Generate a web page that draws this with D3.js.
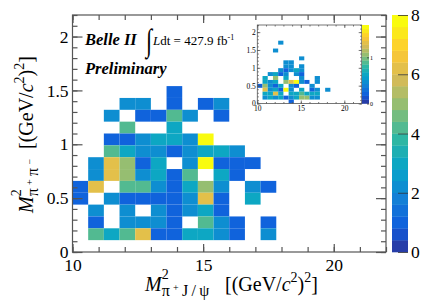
<!DOCTYPE html>
<html>
<head>
<meta charset="utf-8">
<script src="https://cdn.jsdelivr.net/npm/d3@7"></script>
<style>
    body { margin: 0; background: #fff; }
</style>
</head>
<body>
<svg id="chart" width="425" height="305"></svg>
<script>
// axis ticks
const xTicks = [10, 15, 20];
const yTicks = [0, 0.5, 1, 1.5, 2];
const zTicks = [0, 2, 4, 6, 8];
const insetZTicks = [0, 1];

// binning of both histograms: 20 bins in x over [10,22], 20 bins in y over [0,2.2]
const xRange = [10, 22];
const yRange = [0, 2.2];
const nBins = 20;
const zMax = 8;
const insetZMax = 1.7;

// main histogram, counts per bin, rows from y bin 13 (top) down to y bin 0, columns x bins 0..13
const mainCounts = [
    [0, 0, 0, 0, 0, 0, 1, 0, 0, 0, 0, 0, 0, 0],
    [0, 0, 0, 2, 2, 0, 1, 0, 1, 2, 0, 0, 0, 0],
    [0, 0, 2, 0, 1, 1, 4, 2, 0, 1, 0, 0, 0, 0],
    [0, 0, 0, 4, 0, 0, 3, 0, 0, 0, 0, 0, 0, 0],
    [0, 0, 1, 1, 2, 3, 3, 2, 8, 0, 0, 0, 0, 0],
    [0, 0, 4, 3, 2, 2, 1, 2, 3, 3, 2, 0, 0, 0],
    [0, 2, 6, 5, 1, 3, 0, 2, 8, 1, 1, 1, 0, 0],
    [0, 2, 6, 5, 2, 3, 1, 4, 0, 3, 1, 0, 0, 0],
    [1, 6, 0, 4, 4, 2, 1, 3, 5, 2, 0, 2, 1, 0],
    [1, 0, 2, 1, 1, 1, 1, 2, 6, 1, 0, 3, 0, 0],
    [0, 2, 0, 2, 0, 2, 1, 2, 3, 1, 0, 0, 0, 0],
    [0, 1, 0, 2, 2, 2, 1, 0, 4, 2, 1, 0, 1, 0],
    [0, 4, 3, 4, 6, 1, 1, 3, 3, 2, 1, 0, 2, 0],
    [0, 0, 0, 0, 0, 0, 0, 0, 0, 0, 0, 0, 0, 0]
];

// inset histogram (colour level 0..8), rows from y bin 15 down to y bin 0
const insetCounts = [
    [0, 0, 0, 0, 2, 0, 0, 0, 0, 0, 0, 0, 0, 0],
    [0, 0, 0, 0, 0, 0, 0, 0, 0, 0, 0, 0, 0, 0],
    [0, 0, 0, 2, 0, 0, 0, 0, 0, 0, 0, 0, 0, 0],
    [0, 0, 0, 0, 0, 0, 0, 0, 0, 0, 0, 0, 0, 0],
    [0, 0, 0, 0, 0, 0, 0, 0, 2, 0, 0, 0, 0, 0],
    [0, 0, 0, 0, 0, 2, 2, 0, 0, 0, 0, 0, 0, 0],
    [0, 0, 0, 0, 0, 2, 2, 0, 2, 0, 0, 0, 0, 0],
    [0, 0, 0, 0, 2, 1, 2, 3, 2, 0, 0, 0, 0, 0],
    [0, 0, 2, 3, 1, 2, 0, 2, 1, 0, 0, 0, 0, 0],
    [0, 3, 0, 5, 0, 3, 0, 0, 2, 0, 0, 2, 0, 0],
    [0, 3, 2, 3, 0, 5, 6, 8, 2, 1, 0, 2, 0, 0],
    [1, 5, 2, 1, 3, 0, 2, 1, 0, 0, 2, 0, 0, 0],
    [0, 6, 2, 3, 1, 8, 2, 0, 3, 0, 1, 2, 0, 2],
    [0, 3, 3, 6, 3, 0, 3, 3, 4, 3, 3, 3, 0, 0],
    [0, 2, 3, 2, 3, 1, 2, 3, 5, 5, 2, 2, 0, 0],
    [0, 0, 0, 0, 0, 0, 1, 0, 0, 0, 0, 0, 0, 0]
];

// ROOT kBird palette
const birdStops = [0.0, 0.125, 0.25, 0.375, 0.5, 0.625, 0.75, 0.875, 1.0];
const birdRed = [0.2082, 0.0592, 0.0780, 0.0232, 0.1802, 0.5301, 0.8186, 0.9956, 0.9764];
const birdGreen = [0.1664, 0.3599, 0.5041, 0.6419, 0.7178, 0.7492, 0.7328, 0.7862, 0.9832];
const birdBlue = [0.5293, 0.8684, 0.8385, 0.7914, 0.6425, 0.4662, 0.3499, 0.1968, 0.0539];

const bird = d3.scaleLinear()
    .domain(birdStops)
    .range(birdStops.map((s, i) => d3.rgb(birdRed[i] * 255, birdGreen[i] * 255, birdBlue[i] * 255)))
    .interpolate(d3.interpolateRgb);

// colour of contour band i (20 bands, 255 palette colours) like THistPainter
const bandColor = (i) => bird(Math.min(254, Math.floor((i + 0.99) * 255 / nBins)) / 254);
const levelColor = (z, zmax) => bandColor(Math.floor(0.01 + z * nBins / zmax));

const serif = "'Liberation Serif'";
const svg = d3.select('#chart');
const frameColor = '#555';

function drawHist(g, x, y, counts) {
    const dx = (xRange[1] - xRange[0]) / nBins;
    const dy = (yRange[1] - yRange[0]) / nBins;
    const cells = [];
    counts.forEach((row, i) => {
        const j = counts.length - 1 - i;
        row.forEach((v, k) => {
            if (v > 0) cells.push({ k, j, v });
        });
    });
    g.append('g')
        .selectAll('rect')
        .data(cells)
        .enter()
        .append('rect')
            .attr('x', d => x(xRange[0] + d.k * dx))
            .attr('y', d => y(yRange[0] + (d.j + 1) * dy))
            .attr('width', d => x(xRange[0] + (d.k + 1) * dx) - x(xRange[0] + d.k * dx))
            .attr('height', d => y(yRange[0] + d.j * dy) - y(yRange[0] + (d.j + 1) * dy))
            .attr('fill', d => levelColor(d.v, zMax));
}

function styleLabels(a, size) {
    a.selectAll('text')
        .attr('font-size', size)
        .attr('fill', '#000')
        .style('font-family', serif);
}

function drawFrame(g, x, y, o) {
    const [x0, x1] = x.range();
    const [y0, y1] = y.range();
    const xMinor = d3.range(xRange[0], xRange[1] + 1, 1);
    const yMinor = d3.range(0, 23).map(i => i / 10);
    const clean = s => s.call(a => a.select('.domain').remove())
        .call(a => a.selectAll('line').attr('stroke', frameColor).attr('stroke-width', o.lw));

    // minor ticks
    g.append('g').attr('transform', `translate(0,${y0})`)
        .call(d3.axisBottom(x).tickValues(xMinor).tickSize(-o.minor).tickFormat('')).call(clean);
    g.append('g').attr('transform', `translate(0,${y1})`)
        .call(d3.axisTop(x).tickValues(xMinor).tickSize(-o.minor).tickFormat('')).call(clean);
    g.append('g').attr('transform', `translate(${x0},0)`)
        .call(d3.axisLeft(y).tickValues(yMinor).tickSize(-o.minor).tickFormat('')).call(clean);
    g.append('g').attr('transform', `translate(${x1},0)`)
        .call(d3.axisRight(y).tickValues(yMinor).tickSize(-o.minor).tickFormat('')).call(clean);

    // major ticks with labels
    g.append('g').attr('transform', `translate(0,${y0})`)
        .call(d3.axisBottom(x).tickValues(xTicks).tickSize(-o.xMajor).tickPadding(o.xPad).tickFormat(d => d))
        .call(clean)
        .call(a => styleLabels(a, o.font));
    g.append('g').attr('transform', `translate(0,${y1})`)
        .call(d3.axisTop(x).tickValues(xTicks).tickSize(-o.xMajor).tickFormat('')).call(clean);
    g.append('g').attr('transform', `translate(${x0},0)`)
        .call(d3.axisLeft(y).tickValues(yTicks).tickSize(-o.yMajor).tickPadding(o.yPad).tickFormat(d => d))
        .call(clean)
        .call(a => styleLabels(a, o.font));
    g.append('g').attr('transform', `translate(${x1},0)`)
        .call(d3.axisRight(y).tickValues(yTicks).tickSize(-o.yMajor).tickFormat('')).call(clean);

    g.append('rect')
        .attr('x', x0).attr('y', y1)
        .attr('width', x1 - x0).attr('height', y0 - y1)
        .attr('fill', 'none')
        .attr('stroke', frameColor)
        .attr('stroke-width', o.lw);
}

function drawPalette(g, x0, x1, zScale, ticks, o) {
    const [b, t] = zScale.range();
    const z = d3.scaleLinear().domain([0, nBins]).range([b, t]);
    g.append('g')
        .selectAll('rect')
        .data(d3.range(nBins))
        .enter()
        .append('rect')
            .attr('x', x0)
            .attr('y', i => z(i + 1))
            .attr('width', x1 - x0)
            .attr('height', i => z(i) - z(i + 1) + 0.3)
            .attr('fill', i => bandColor(i));
    g.append('g').attr('transform', `translate(${x1},0)`)
        .call(d3.axisRight(zScale).tickValues(ticks).tickSize(-o.tick).tickPadding(o.pad).tickFormat(d => d))
        .call(a => a.select('.domain').remove())
        .call(a => a.selectAll('line').attr('stroke', '#333').attr('stroke-width', 0.8))
        .call(a => styleLabels(a, o.font));
}

// ---- main plot
const x = d3.scaleLinear().domain(xRange).range([72.5, 386]);
const y = d3.scaleLinear().domain(yRange).range([252, 15]);
const main = svg.append('g');
drawHist(main, x, y, mainCounts);
drawFrame(main, x, y, { minor: 5, xMajor: 8, yMajor: 10, xPad: 7, yPad: 4, font: 17.5, lw: 1.2 });
drawPalette(main, 392, 408, d3.scaleLinear().domain([0, zMax]).range([252, 15]), zTicks,
    { tick: 10, pad: 3, font: 17.5 });

// ---- inset
const xi = d3.scaleLinear().domain(xRange).range([257.3, 361.7]);
const yi = d3.scaleLinear().domain(yRange).range([103.5, 25]);
const inset = svg.append('g');
drawHist(inset, xi, yi, insetCounts);
drawFrame(inset, xi, yi, { minor: 1.5, xMajor: 3, yMajor: 3, xPad: 2.5, yPad: 1.5, font: 7.5, lw: 0.8 });
drawPalette(inset, 362, 369, d3.scaleLinear().domain([0, insetZMax]).range([103.5, 25]), insetZTicks,
    { tick: 2, pad: 1, font: 6 });

// ---- axis titles: M^2_{sub} [(GeV/c^2)^2], bracket part starts at bracketX
function axisTitle(g, subParts, bracketX) {
    const t = g.append('text')
        .attr('font-size', 20)
        .attr('fill', '#000')
        .style('font-family', serif)
        .style('white-space', 'pre');
    let base = 0;
    const shift = target => { const d = target - base; base = target; return d; };
    t.append('tspan').attr('font-style', 'italic').text('M');
    t.append('tspan').attr('font-size', 14).attr('dy', shift(-12)).text('2');
    subParts.forEach((p, i) => {
        const s = t.append('tspan')
            .attr('font-size', p.small ? 10 : 16)
            .attr('dy', shift(p.small ? 0 : 5))
            .attr('letter-spacing', 3.3)
            .text(p.text);
        if (i === 0) s.attr('dx', -7);
    });
    t.append('tspan').attr('font-size', 20).attr('x', bracketX).attr('dy', shift(0)).text('[(GeV/');
    t.append('tspan').attr('font-style', 'italic').text('c');
    t.append('tspan').attr('font-size', 14).attr('dy', shift(-9)).text('2');
    t.append('tspan').attr('font-size', 20).attr('dy', shift(0)).text(')');
    t.append('tspan').attr('font-size', 14).attr('dy', shift(-9)).text('2');
    t.append('tspan').attr('font-size', 20).attr('dy', shift(0)).text(']');
}

axisTitle(svg.append('g').attr('transform', 'translate(145,291)'),
    [{ text: 'π' }, { text: '+', small: true }, { text: 'J/ψ' }], 80);
axisTitle(svg.append('g').attr('transform', 'translate(33,213) rotate(-90)'),
    [{ text: 'π' }, { text: '+', small: true }, { text: 'π' }, { text: '−', small: true }], 64);

// ---- labels
svg.append('text')
    .attr('x', 85).attr('y', 45)
    .attr('font-size', 16.5)
    .attr('font-weight', 'bold')
    .attr('font-style', 'italic')
    .style('font-family', serif)
    .text('Belle II');
svg.append('text')
    .attr('x', 85).attr('y', 74)
    .attr('font-size', 16.5)
    .attr('font-weight', 'bold')
    .attr('font-style', 'italic')
    .style('font-family', serif)
    .text('Preliminary');

svg.append('text')
    .attr('transform', 'translate(146,51) scale(1,1.45)')
    .attr('font-size', 22)
    .style('font-family', serif)
    .text('∫');
const lumi = svg.append('text')
    .attr('x', 153).attr('y', 45)
    .attr('font-size', 13)
    .style('font-family', serif)
    .style('white-space', 'pre');
lumi.append('tspan').attr('font-style', 'italic').text('L');
lumi.append('tspan').text('dt = 427.9 fb');
lumi.append('tspan').attr('font-size', 8).attr('dy', -5).text('-1');
</script>
</body>
</html>
